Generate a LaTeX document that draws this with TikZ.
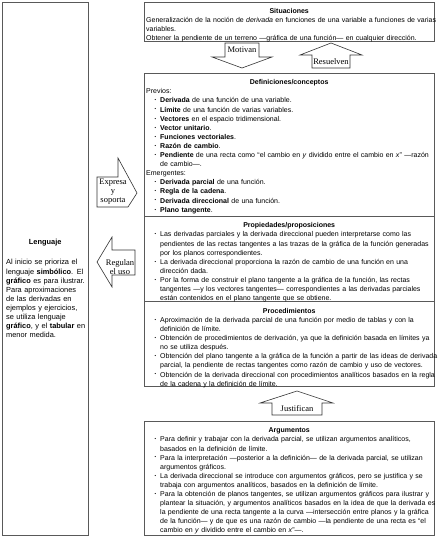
\documentclass[tikz,border=0pt]{standalone}
\usepackage{fontspec}
\setmainfont{Liberation Sans}
\newfontfamily\arrowfont{Liberation Serif}
\tikzset{
    panel/.style = {draw=black!65, line width=.9pt},
    txt/.style = {anchor=north west, inner sep=0pt, align=left,
        text width=300pt, font=\fontsize{7}{9.1}\selectfont},
    blockarrow/.style = {draw=black!80, fill=white, line width=.6pt, line join=miter},
    arrowlabel/.style = {align=center, inner sep=0pt,
        font=\arrowfont\fontsize{8.5}{9}\selectfont}
}
\newcommand{\dotmark}{\raisebox{.3ex}{\fontsize{4.5}{5}\selectfont\textbullet}}
\newcommand{\bul}{\par\leftskip=14pt\noindent\llap{\dotmark\hspace{4pt}}}
\newcommand{\lvl}{\par\leftskip=0pt\noindent}
\newcommand{\ttl}[2][286pt]{\par\leftskip=0pt\noindent\makebox[#1]{\textbf{#2}}\par}

\begin{document}
\begin{tikzpicture}[x=1pt,y=-1pt]
    \useasboundingbox (0,0) rectangle (447,537);
    % cuadros
    \draw[panel] (2,2) rectangle (88,535);
    \draw[panel] (144,2) rectangle (434,41);
    \draw[panel] (144,73) rectangle (434,386);
    \draw[panel] (144,216) -- (434,216);
    \draw[panel] (144,301) -- (434,301);
    \draw[panel] (144,421) rectangle (434,535);

    % flechas de bloque
    \draw[blockarrow] (225,43) -- (259,43) -- (259,57) -- (272,57) -- (242,68)
        -- (212,57) -- (225,57) -- cycle;
    \node[arrowlabel] (motivan) at (242,50) {Motivan};
    \draw[blockarrow] (331,43) -- (362,55) -- (350,55) -- (350,68) -- (312,68)
        -- (312,55) -- (300,55) -- cycle;
    \node[arrowlabel] (resuelven) at (331,61.5) {Resuelven};
    \draw[blockarrow] (97,177) -- (118,177) -- (118,158) -- (137,193) -- (128,207)
        -- (97,207) -- cycle;
    \node[arrowlabel] (expresa) at (113,192) {Expresa\\y\\soporta};
    \draw[blockarrow] (97,262) -- (112,237) -- (112,250) -- (135,250) -- (135,275)
        -- (112,275) -- (112,287) -- cycle;
    \node[arrowlabel] (regulan) at (120,267) {Regulan\\el uso};
    \draw[blockarrow] (297,391) -- (333,403) -- (322,403) -- (322,415) -- (272,415)
        -- (272,403) -- (260,403) -- cycle;
    \node[arrowlabel] (justifican) at (297,409) {Justifican};

    % textos
    \node[txt, text width=80pt, font=\fontsize{7.4}{9.1}\selectfont] (lenguaje) at (6,235.5) {%
        \ttl[78pt]{Lenguaje}\vspace{11pt}
        \lvl Al inicio se prioriza el\newline
        lenguaje \textbf{simbólico}. El\newline
        \textbf{gráfico} es para ilustrar.\newline
        Para aproximaciones\newline
        de las derivadas en\newline
        ejemplos y ejercicios,\newline
        se utiliza lenguaje\newline
        \textbf{gráfico}, y el \textbf{tabular} en\newline
        menor medida.\par};

    \node[txt] (situaciones) at (146,4) {%
        \ttl{Situaciones}
        \lvl Generalización de la noción de \textit{derivada} en funciones de una variable a funciones de varias\newline
        variables.
        \lvl Obtener la pendiente de un terreno —gráfica de una función— en cualquier dirección.\par};

    \node[txt] (definiciones) at (146,75.5) {%
        \ttl{Definiciones/conceptos}
        \lvl Previos:
        \bul \textbf{Derivada} de una función de una variable.
        \bul \textbf{Límite} de una función de varias variables.
        \bul \textbf{Vectores} en el espacio tridimensional.
        \bul \textbf{Vector unitario}.
        \bul \textbf{Funciones vectoriales}.
        \bul \textbf{Razón de cambio}.
        \bul \textbf{Pendiente} de una recta como “el cambio en \textit{y} dividido entre el cambio en \textit{x}” —razón\newline
        de cambio—.
        \lvl Emergentes:
        \bul \textbf{Derivada parcial} de una función.
        \bul \textbf{Regla de la cadena}.
        \bul \textbf{Derivada direccional} de una función.
        \bul \textbf{Plano tangente}.\par};

    \node[txt] (propiedades) at (146,218.5) {%
        \ttl{Propiedades/proposiciones}
        \bul Las derivadas parciales y la derivada direccional pueden interpretarse como las\newline
        pendientes de las rectas tangentes a las trazas de la gráfica de la función generadas\newline
        por los planos correspondientes.
        \bul La derivada direccional proporciona la razón de cambio de una función en una\newline
        dirección dada.
        \bul Por la forma de construir el plano tangente a la gráfica de la función, las rectas\newline
        tangentes —y los vectores tangentes— correspondientes a las derivadas parciales\newline
        están contenidos en el plano tangente que se obtiene.\par};

    \node[txt] (procedimientos) at (146,304) {%
        \ttl{Procedimientos}
        \bul Aproximación de la derivada parcial de una función por medio de tablas y con la\newline
        definición de límite.
        \bul Obtención de procedimientos de derivación, ya que la definición basada en límites ya\newline
        no se utiliza después.
        \bul Obtención del plano tangente a la gráfica de la función a partir de las ideas de derivada\newline
        parcial, la pendiente de rectas tangentes como razón de cambio y uso de vectores.
        \bul Obtención de la derivada direccional con procedimientos analíticos basados en la regla\newline
        de la cadena y la definición de límite.\par};

    \node[txt] (argumentos) at (146,423.5) {%
        \ttl{Argumentos}
        \bul Para definir y trabajar con la derivada parcial, se utilizan argumentos analíticos,\newline
        basados en la definición de límite.
        \bul Para la interpretación —posterior a la definición— de la derivada parcial, se utilizan\newline
        argumentos gráficos.
        \bul La derivada direccional se introduce con argumentos gráficos, pero se justifica y se\newline
        trabaja con argumentos analíticos, basados en la definición de límite.
        \bul Para la obtención de planos tangentes, se utilizan argumentos gráficos para ilustrar y\newline
        plantear la situación, y argumentos analíticos basados en la idea de que la derivada es\newline
        la pendiente de una recta tangente a la curva —intersección entre planos y la gráfica\newline
        de la función— y de que es una razón de cambio —la pendiente de una recta es “el\newline
        cambio en \textit{y} dividido entre el cambio en \textit{x}”—.\par};
\end{tikzpicture}
\end{document}
